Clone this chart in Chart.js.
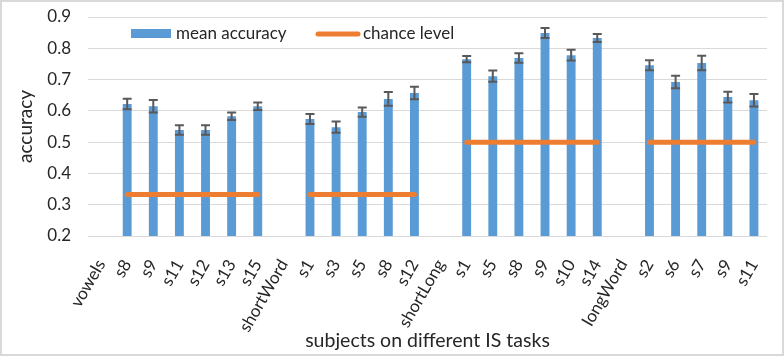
<!DOCTYPE html>
<html><head><meta charset="utf-8">
<script src="https://cdn.jsdelivr.net/npm/chart.js@4"></script>
<style>html,body{margin:0;padding:0;background:#fff}canvas{display:block}</style>
</head><body>
<canvas id="c" width="784" height="356"></canvas>
<script>
const categories = ['vowels','s8','s9','s11','s12','s13','s15','shortWord','s1','s3','s5','s8','s12','shortLong','s1','s5','s8','s9','s10','s14','longWord','s2','s6','s7','s9','s11'];
const meanAccuracy = [null,0.622,0.615,0.539,0.539,0.583,0.615,null,0.574,0.548,0.596,0.638,0.657,null,0.765,0.711,0.769,0.849,0.778,0.833,null,0.746,0.692,0.753,0.644,0.634];
const errorSizes = [null,0.017,0.020,0.015,0.015,0.012,0.012,null,0.016,0.018,0.015,0.022,0.020,null,0.010,0.018,0.015,0.016,0.017,0.013,null,0.016,0.020,0.023,0.017,0.020];
const chanceLevel = [null,0.333,0.333,0.333,0.333,0.333,0.333,null,0.333,0.333,0.333,0.333,0.333,null,0.5,0.5,0.5,0.5,0.5,0.5,null,0.5,0.5,0.5,0.5,0.5];
const yMin = 0.2, yMax = 0.9, yStep = 0.1;
const FONT = 'Lato, "Open Sans", sans-serif';
const BLUE = '#5B9BD5', ORANGE = '#ED7D31', GREY = '#595959', TEXT = '#262626';

const errorBars = {
  id: 'errorBars',
  afterDatasetsDraw(chart) {
    const meta = chart.getDatasetMeta(0);
    const y = chart.scales.y;
    const ctx = chart.ctx;
    ctx.save();
    ctx.strokeStyle = GREY;
    ctx.lineWidth = 2;
    meta.data.forEach((bar, i) => {
      const v = meanAccuracy[i], e = errorSizes[i];
      if (v == null || e == null) return;
      const yt = y.getPixelForValue(v + e), yb = y.getPixelForValue(v - e);
      const x = bar.x, hw = 4.5;
      ctx.beginPath();
      ctx.moveTo(x, yt); ctx.lineTo(x, yb);
      ctx.moveTo(x - hw, yt); ctx.lineTo(x + hw, yt);
      ctx.moveTo(x - hw, yb); ctx.lineTo(x + hw, yb);
      ctx.stroke();
    });
    ctx.restore();
  }
};

const frameAndLegend = {
  id: 'frameAndLegend',
  beforeDraw(chart) {
    const ctx = chart.ctx;
    ctx.save();
    ctx.fillStyle = '#fff';
    ctx.fillRect(0, 0, chart.width, chart.height);
    ctx.restore();
  },
  afterDraw(chart) {
    const ctx = chart.ctx;
    ctx.save();
    ctx.strokeStyle = '#d9d9d9';
    ctx.lineWidth = 2;
    ctx.strokeRect(1, 1, chart.width - 2, chart.height - 2);
    // legend
    ctx.fillStyle = BLUE;
    ctx.fillRect(131, 29, 40, 9);
    ctx.strokeStyle = ORANGE;
    ctx.lineWidth = 5;
    ctx.lineCap = 'round';
    ctx.beginPath(); ctx.moveTo(318, 34); ctx.lineTo(358, 34); ctx.stroke();
    ctx.fillStyle = TEXT;
    ctx.font = '17px ' + FONT;
    ctx.textBaseline = 'middle';
    ctx.fillText(chart.data.datasets[0].label, 176, 34);
    ctx.fillText(chart.data.datasets[1].label, 363, 34);
    ctx.restore();
  }
};

new Chart(document.getElementById('c'), {
  type: 'bar',
  data: {
    labels: categories,
    datasets: [
      { type: 'bar', label: 'mean accuracy', data: meanAccuracy, backgroundColor: BLUE,
        barPercentage: 0.34, categoryPercentage: 1, order: 2 },
      { type: 'line', label: 'chance level', data: chanceLevel, borderColor: ORANGE,
        borderWidth: 5, borderCapStyle: 'round', pointRadius: 0, spanGaps: false, order: 1 }
    ]
  },
  options: {
    responsive: false,
    animation: false,
    layout: { padding: { left: 14, top: 17, right: 17, bottom: 0 } },
    plugins: { legend: { display: false }, tooltip: { enabled: false } },
    scales: {
      x: {
        grid: { display: false },
        border: { display: false },
        ticks: { color: TEXT, font: { family: FONT, size: 17 }, minRotation: 60, maxRotation: 60, padding: 12, autoSkip: false },
        title: { display: true, text: 'subjects on different IS tasks', color: TEXT, font: { family: FONT, size: 19.5 }, padding: { top: 0, bottom: 4 } },
        afterFit(s) { s.height = 120; }
      },
      y: {
        min: yMin, max: yMax,
        grid: { color: '#d9d9d9', lineWidth: 1, drawTicks: true, tickLength: 14, tickColor: 'rgba(0,0,0,0)' },
        border: { display: false },
        ticks: { stepSize: yStep, color: TEXT, font: { family: FONT, size: 17 }, padding: 3,
          callback: v => v.toFixed(1) },
        title: { display: true, text: 'accuracy', color: TEXT, font: { family: FONT, size: 19 }, padding: 0 },
        afterFit(s) { s.width = 74; }
      }
    }
  },
  plugins: [errorBars, frameAndLegend]
});
</script>
</body></html>
